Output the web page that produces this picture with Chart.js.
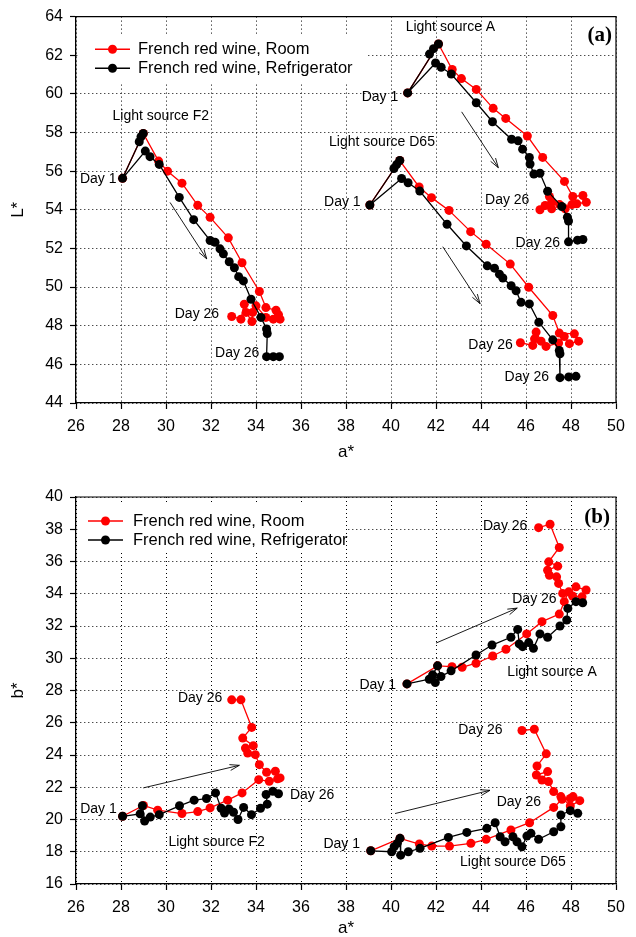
<!DOCTYPE html>
<html>
<head>
<meta charset="utf-8">
<script src="https://cdn.jsdelivr.net/npm/chart.js@4/dist/chart.umd.min.js"></script>
<style>
body { margin: 0; background: #fff; }
canvas { position: absolute; left: 0; }
</style>
</head>
<body>
<canvas id="chartA" width="636" height="468" style="top:0px"></canvas>
<canvas id="chartB" width="636" height="469" style="top:468px"></canvas>
<script>
// panel (a): a* against L*, [a*, L*] per day
var roomF2_aL = [[28.07,55.63],[28.99,57.95],[29.67,56.52],[30.07,56.0],[30.71,55.38],[31.41,54.23],[31.96,53.61],[32.77,52.55],[33.38,51.26],[34.15,49.77],[34.44,48.94],[34.89,48.8],[35.0,48.57],[35.07,48.34],[34.77,48.34],[34.44,48.43],[34.0,49.03],[33.85,48.69],[33.82,48.22],[33.56,48.69],[33.48,49.11],[33.33,48.34],[32.92,48.48]];
var fridgeF2_aL = [[28.81,57.52],[28.89,57.78],[28.99,57.95],[28.07,55.63],[29.08,57.04],[29.29,56.75],[29.7,56.35],[30.59,54.64],[31.23,53.49],[31.96,52.41],[32.18,52.32],[32.4,51.98],[32.55,51.72],[32.81,51.31],[33.04,51.0],[33.23,50.54],[33.44,50.32],[33.78,49.37],[34.22,48.43],[34.47,47.83],[34.5,47.6],[34.47,46.4],[34.77,46.4],[35.04,46.4]];
var roomA_aL = [[40.74,60.05],[42.11,62.58],[42.72,61.26],[43.13,60.79],[43.79,60.23],[44.54,59.25],[45.1,58.73],[46.06,57.82],[46.74,56.71],[47.71,55.47],[48.08,54.69],[48.53,54.74],[48.68,54.39],[48.26,54.31],[48.04,54.27],[47.74,54.05],[47.49,54.27],[47.14,54.39],[47.04,54.69],[47.14,54.05],[46.85,54.22],[46.62,54.0]];
var fridgeA_aL = [[41.71,62.06],[41.89,62.34],[42.11,62.58],[40.74,60.05],[41.98,61.6],[42.23,61.38],[42.68,61.03],[43.79,59.54],[44.51,58.56],[45.36,57.65],[45.65,57.57],[45.85,57.14],[46.15,56.71],[46.18,56.37],[46.35,55.85],[46.62,55.89],[46.96,54.96],[47.59,54.17],[47.84,53.62],[47.89,53.42],[47.89,52.34],[48.29,52.43],[48.53,52.46]];
var roomD65_aL = [[39.06,54.25],[40.39,56.55],[41.25,55.18],[41.8,54.63],[42.58,53.97],[43.54,52.87],[44.23,52.22],[45.3,51.19],[46.12,49.99],[47.19,48.53],[47.48,47.62],[48.15,47.58],[48.34,47.2],[47.93,47.07],[47.7,47.44],[47.45,47.1],[46.89,46.93],[46.67,47.2],[46.45,47.67],[46.38,47.32],[46.3,46.98],[45.75,47.12]];
var fridgeD65_aL = [[40.13,56.14],[40.25,56.34],[40.39,56.55],[39.06,54.25],[40.47,55.62],[40.76,55.4],[41.28,54.97],[42.49,53.25],[43.35,52.13],[44.28,51.1],[44.6,50.98],[44.82,50.67],[44.97,50.47],[45.34,50.07],[45.56,49.81],[45.78,49.21],[46.15,49.13],[46.57,48.18],[47.19,47.27],[47.48,46.72],[47.51,46.55],[47.51,45.31],[47.9,45.35],[48.22,45.38]];

// panel (b): a* against b*, [a*, b*] per day
var roomF2_ab = [[28.07,20.2],[29.0,20.87],[29.63,20.58],[30.71,20.37],[31.41,20.49],[31.96,20.72],[32.74,21.2],[33.38,21.65],[34.12,22.47],[34.59,22.37],[34.96,22.52],[35.07,22.58],[34.86,22.99],[34.47,22.93],[34.15,23.4],[33.97,24.02],[33.63,24.12],[33.53,24.43],[33.88,24.58],[33.41,25.05],[33.81,25.71],[33.33,27.42],[32.92,27.42]];
var fridgeF2_ab = [[28.07,20.2],[28.85,20.35],[28.95,20.85],[29.05,19.9],[29.3,20.15],[29.7,20.3],[30.6,20.85],[31.25,21.2],[31.8,21.3],[32.2,21.65],[32.45,20.7],[32.6,20.4],[32.8,20.65],[33.0,20.45],[33.2,20.0],[33.45,20.75],[33.8,20.3],[34.2,20.7],[34.5,20.95],[34.45,21.55],[34.75,21.75],[35.0,21.6]];
var roomA_ab = [[40.71,28.41],[42.07,29.53],[42.71,29.48],[43.16,29.44],[43.78,29.69],[44.52,30.14],[45.11,30.56],[46.03,31.51],[46.71,32.27],[47.48,32.74],[47.7,33.51],[47.9,34.12],[48.22,34.43],[48.67,34.23],[48.49,33.81],[48.07,33.86],[47.63,34.02],[47.45,34.64],[47.36,35.05],[47.04,35.15],[46.96,35.46],[47.41,35.71],[47.01,35.98],[47.48,36.87],[47.07,38.31],[46.56,38.1]];
var fridgeA_ab = [[40.71,28.41],[41.7,28.7],[41.97,28.49],[41.85,28.97],[42.07,29.53],[42.22,28.87],[42.67,29.22],[43.78,30.2],[44.49,30.82],[45.33,31.3],[45.63,31.79],[45.7,30.89],[45.85,30.72],[46.12,30.97],[46.33,30.62],[46.62,31.51],[46.96,31.3],[47.51,32.0],[47.81,32.37],[47.86,33.09],[48.22,33.51],[48.52,33.44]];
var roomD65_ab = [[39.1,18.06],[40.4,18.83],[41.26,18.48],[41.81,18.35],[42.6,18.35],[43.55,18.52],[44.23,18.77],[45.33,19.35],[46.16,19.8],[47.23,20.75],[47.6,21.25],[47.97,21.31],[48.09,21.42],[48.39,21.17],[47.97,20.84],[47.55,21.42],[47.23,21.73],[47.0,22.35],[46.71,22.45],[46.96,22.97],[46.46,22.76],[46.49,23.32],[46.9,24.07],[46.37,25.6],[45.82,25.52]];
var fridgeD65_ab = [[39.1,18.06],[40.03,18.0],[40.14,18.31],[40.28,18.52],[40.4,18.83],[40.43,17.79],[40.77,18.0],[41.29,18.21],[42.55,18.89],[43.37,19.2],[44.26,19.45],[44.63,19.8],[44.85,18.93],[45.07,18.62],[45.42,18.93],[45.6,18.62],[45.82,18.31],[46.04,18.97],[46.22,19.14],[46.56,18.77],[47.23,19.24],[47.55,19.55],[47.55,20.28],[47.97,20.55],[48.3,20.38]];

// axis ranges
var aRange = [26, 50];
var LRange = [44, 64];
var bRange = [16, 40];
var roomLabel = "French red wine, Room";
var fridgeLabel = "French red wine, Refrigerator";

var fontFam = '"Liberation Sans", Arial, Helvetica, sans-serif';
Chart.defaults.font.family = fontFam;
Chart.defaults.color = '#000';

//turns [x, y] pairs into the point objects the scatter chart wants
function toPts(list) {
    return list.map(function (p) {
        return { x: p[0], y: p[1] };
    });
}

function series(label, color, list, order) {
    return {
        label: label,
        data: toPts(list),
        showLine: true,
        borderColor: color,
        backgroundColor: color,
        borderWidth: 1.3,
        pointRadius: 4.5,
        pointHoverRadius: 4.5,
        pointBorderWidth: 0,
        order: order
    };
}

//draws the frame, the legend box, the text notes, the arrows and the panel letter
var decoPlugin = {
    id: 'deco',
    beforeDatasetsDraw: function (chart, args, o) {
        var ctx = chart.ctx;
        ctx.save();
        ctx.fillStyle = '#fff';
        ctx.fillRect(o.legendBox[0], o.legendBox[1], o.legendBox[2], o.legendBox[3]);
        ctx.restore();
    },
    afterDatasetsDraw: function (chart, args, o) {
        var ctx = chart.ctx;
        var area = chart.chartArea;
        var xs = chart.scales.x;
        var ys = chart.scales.y;
        ctx.save();
        //frame on the top and right
        ctx.strokeStyle = '#000';
        ctx.lineWidth = 1.2;
        ctx.beginPath();
        ctx.moveTo(area.left, area.top);
        ctx.lineTo(area.right, area.top);
        ctx.lineTo(area.right, area.bottom);
        ctx.stroke();

        //text notes
        ctx.fillStyle = '#000';
        ctx.font = '14px ' + fontFam;
        ctx.textBaseline = 'middle';
        o.notes.forEach(function (n) {
            ctx.textAlign = n.align;
            ctx.fillText(n.t, xs.getPixelForValue(n.x), ys.getPixelForValue(n.y));
        });

        //arrows
        ctx.lineWidth = 0.9;
        o.arrows.forEach(function (a) {
            var x1 = xs.getPixelForValue(a[0]), y1 = ys.getPixelForValue(a[1]);
            var x2 = xs.getPixelForValue(a[2]), y2 = ys.getPixelForValue(a[3]);
            var ang = Math.atan2(y2 - y1, x2 - x1);
            ctx.beginPath();
            ctx.moveTo(x1, y1);
            ctx.lineTo(x2, y2);
            ctx.moveTo(x2 - 10 * Math.cos(ang - 0.3), y2 - 10 * Math.sin(ang - 0.3));
            ctx.lineTo(x2, y2);
            ctx.lineTo(x2 - 10 * Math.cos(ang + 0.3), y2 - 10 * Math.sin(ang + 0.3));
            ctx.stroke();
        });

        //legend rows
        ctx.font = '16.5px ' + fontFam;
        ctx.textAlign = 'left';
        o.legend.forEach(function (row, i) {
            var ds = chart.data.datasets[row];
            var y = o.legendPos[1] + i * o.legendPos[4];
            ctx.strokeStyle = ds.borderColor;
            ctx.fillStyle = ds.borderColor;
            ctx.lineWidth = 1.5;
            ctx.beginPath();
            ctx.moveTo(o.legendPos[0], y);
            ctx.lineTo(o.legendPos[0] + o.legendPos[2], y);
            ctx.stroke();
            ctx.beginPath();
            ctx.arc(o.legendPos[0] + o.legendPos[2] / 2, y, 4.5, 0, Math.PI * 2);
            ctx.fill();
            ctx.fillStyle = '#000';
            ctx.fillText(ds.label, o.legendPos[3], y);
        });

        //panel letter
        ctx.font = 'bold 21px "Liberation Serif", "Times New Roman", serif';
        ctx.textAlign = 'right';
        ctx.fillStyle = '#000';
        ctx.fillText(o.letter, o.letterPos[0], o.letterPos[1]);
        ctx.restore();
    }
};

function makeChart(id, yTitle, yRange, sets, top, xHeight, titlePad, deco) {
    var ctx = document.getElementById(id).getContext('2d');
    var gridOpts = {
        color: '#000',
        lineWidth: 1,
        tickLength: 6,
        tickColor: '#000',
        tickWidth: 1.2,
        tickBorderDash: []
    };
    var borderOpts = { display: true, color: '#000', width: 1.3, dash: [1, 3] };
    return new Chart(ctx, {
        type: 'scatter',
        data: { datasets: sets },
        options: {
            responsive: false,
            animation: false,
            layout: { padding: { left: 0, right: 20, top: top, bottom: 0 } },
            plugins: {
                legend: { display: false },
                tooltip: { enabled: false },
                deco: deco
            },
            scales: {
                x: {
                    type: 'linear',
                    min: aRange[0],
                    max: aRange[1],
                    ticks: { stepSize: 2, padding: 8, font: { size: 16 }, color: '#000' },
                    grid: gridOpts,
                    border: borderOpts,
                    title: { display: true, text: 'a*', font: { size: 17, lineHeight: 1 }, color: '#000', padding: { top: 0, bottom: titlePad } },
                    afterFit: function (s) { s.height = xHeight; }
                },
                y: {
                    type: 'linear',
                    min: yRange[0],
                    max: yRange[1],
                    ticks: { stepSize: 2, padding: 7, font: { size: 16 }, color: '#000' },
                    grid: gridOpts,
                    border: borderOpts,
                    title: { display: true, text: yTitle, font: { size: 17, lineHeight: 1 }, color: '#000', padding: { top: 9.5, bottom: 0 } },
                    afterFit: function (s) { s.width = 76; }
                }
            }
        },
        plugins: [decoPlugin]
    });
}

var setsA = [
    series(fridgeLabel, '#000000', fridgeF2_aL, 0),
    series(fridgeLabel, '#000000', fridgeA_aL, 0),
    series(fridgeLabel, '#000000', fridgeD65_aL, 0),
    series(roomLabel, '#ff0000', roomF2_aL, 1),
    series(roomLabel, '#ff0000', roomA_aL, 1),
    series(roomLabel, '#ff0000', roomD65_aL, 1)
];
var setsB = [
    series(fridgeLabel, '#000000', fridgeF2_ab, 0),
    series(fridgeLabel, '#000000', fridgeA_ab, 0),
    series(fridgeLabel, '#000000', fridgeD65_ab, 0),
    series(roomLabel, '#ff0000', roomF2_ab, 1),
    series(roomLabel, '#ff0000', roomA_ab, 1),
    series(roomLabel, '#ff0000', roomD65_ab, 1)
];

makeChart('chartA', 'L*', LRange, setsA, 15, 65, 7.5, {
    legendBox: [78, 36, 290, 46],
    legendPos: [95, 49.3, 35, 138, 19],
    legend: [3, 0],
    letter: '(a)',
    letterPos: [612, 36],
    notes: [
        { t: 'Light source F2', x: 29.77, y: 58.85, align: 'center' },
        { t: 'Day 1', x: 27.8, y: 55.58, align: 'right' },
        { t: 'Day 26', x: 32.36, y: 48.59, align: 'right' },
        { t: 'Day 26', x: 34.15, y: 46.56, align: 'right' },
        { t: 'Light source A', x: 42.64, y: 63.48, align: 'center' },
        { t: 'Day 1', x: 40.32, y: 59.84, align: 'right' },
        { t: 'Light source D65', x: 39.6, y: 57.52, align: 'center' },
        { t: 'Day 1', x: 38.65, y: 54.38, align: 'right' },
        { t: 'Day 26', x: 46.15, y: 54.52, align: 'right' },
        { t: 'Day 26', x: 47.51, y: 52.28, align: 'right' },
        { t: 'Day 26', x: 45.41, y: 46.99, align: 'right' },
        { t: 'Day 26', x: 47.02, y: 45.32, align: 'right' }
    ],
    arrows: [[30.18, 54.38, 31.81, 51.46], [43.14, 59.07, 44.77, 56.18], [42.3, 52.09, 43.96, 49.14]]
});

makeChart('chartB', 'b*', bRange, setsB, 29, 53, 0, {
    legendBox: [78, 37, 268, 47],
    legendPos: [88, 53, 35, 133, 19],
    legend: [3, 0],
    letter: '(b)',
    letterPos: [610, 50],
    notes: [
        { t: 'Day 26', x: 32.5, y: 27.53, align: 'right' },
        { t: 'Day 1', x: 27.81, y: 20.62, align: 'right' },
        { t: 'Day 26', x: 35.51, y: 21.49, align: 'left' },
        { t: 'Light source F2', x: 32.25, y: 18.62, align: 'center' },
        { t: 'Day 26', x: 46.06, y: 38.22, align: 'right' },
        { t: 'Day 26', x: 47.36, y: 33.68, align: 'right' },
        { t: 'Light source A', x: 47.16, y: 29.14, align: 'center' },
        { t: 'Day 1', x: 40.22, y: 28.32, align: 'right' },
        { t: 'Day 26', x: 44.96, y: 25.53, align: 'right' },
        { t: 'Day 26', x: 46.67, y: 21.1, align: 'right' },
        { t: 'Day 1', x: 38.62, y: 18.45, align: 'right' },
        { t: 'Light source D65', x: 45.42, y: 17.36, align: 'center' }
    ],
    arrows: [[28.99, 21.96, 33.26, 23.36], [42.0, 30.94, 45.61, 33.11], [40.18, 20.37, 44.4, 21.81]]
});
</script>
</body>
</html>
